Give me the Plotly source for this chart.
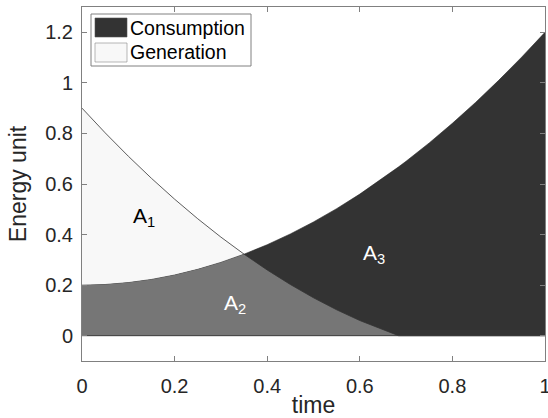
import numpy as np
import plotly.graph_objects as go

# time samples
time = [0.0, 0.05, 0.10, 0.15, 0.20, 0.25, 0.30, 0.35, 0.40, 0.45, 0.50,
        0.55, 0.60, 0.65, 0.684, 0.70, 0.75, 0.80, 0.85, 0.90, 0.95, 1.0]
# consumption readings
consumption = [0.20, 0.2025, 0.21, 0.2225, 0.24, 0.2625, 0.29, 0.3225, 0.36, 0.4025, 0.45,
               0.5025, 0.56, 0.6225, 0.668, 0.69, 0.7625, 0.84, 0.9225, 1.01, 1.1025, 1.20]
# generation readings
generation = [0.90, 0.8025, 0.71, 0.6225, 0.54, 0.4625, 0.39, 0.3225, 0.26, 0.2025, 0.15,
              0.1025, 0.06, 0.0225, 0.0, 0.0, 0.0, 0.0, 0.0, 0.0, 0.0, 0.0]

x_ticks = [0, 0.2, 0.4, 0.6, 0.8, 1]
x_tick_labels = ["0", "0.2", "0.4", "0.6", "0.8", "1"]
y_ticks = [0, 0.2, 0.4, 0.6, 0.8, 1.0, 1.2]
y_tick_labels = ["0", "0.2", "0.4", "0.6", "0.8", "1", "1.2"]

legend_names = ["Consumption", "Generation"]
area_labels = ["A<sub>1</sub>", "A<sub>2</sub>", "A<sub>3</sub>"]
label_x = [0.133, 0.33, 0.63]
label_y = [0.47, 0.125, 0.325]
label_colors = ["black", "white", "white"]

C_DARK = "#333333"
C_MID = "#767676"
C_LIGHT = "#f8f8f8"
FONT = "Liberation Sans, Arial, Helvetica, sans-serif"

overlap = np.minimum(np.array(consumption), np.array(generation)).tolist()

fig = go.Figure()
fig.add_trace(go.Scatter(x=time, y=generation, fill="tozeroy", fillcolor=C_LIGHT,
                         mode="lines", line=dict(width=0), showlegend=False, hoverinfo="skip"))
fig.add_trace(go.Scatter(x=time, y=consumption, fill="tozeroy", fillcolor=C_DARK,
                         mode="lines", line=dict(width=0.6, color="#222222"), showlegend=False, hoverinfo="skip"))
fig.add_trace(go.Scatter(x=time, y=overlap, fill="tozeroy", fillcolor=C_MID,
                         mode="lines", line=dict(width=0), showlegend=False, hoverinfo="skip"))
fig.add_trace(go.Scatter(x=time, y=generation, mode="lines",
                         line=dict(width=0.8, color="#333333"), showlegend=False, hoverinfo="skip"))
fig.add_trace(go.Scatter(x=[0, 1], y=[0, 0], mode="lines",
                         line=dict(width=0.8, color="#333333"), showlegend=False, hoverinfo="skip"))

for t, xv, yv, c in zip(area_labels, label_x, label_y, label_colors):
    fig.add_annotation(x=xv, y=yv, xref="x", yref="y", text=t, showarrow=False,
                       font=dict(family=FONT, size=21, color=c))

# manual MATLAB-style legend
W, H = 548, 418
ml, mr, mt, mb = 82, 3, 7, 57
pw, ph = W - ml - mr, H - mt - mb

def px(xp):
    return (xp - ml) / pw

def py(yp):
    return 1 - (yp - mt) / ph

fig.add_shape(type="rect", xref="paper", yref="paper", x0=px(91), x1=px(251), y0=py(66), y1=py(14),
              line=dict(color="#808080", width=1), fillcolor="white", layer="above")
fig.add_shape(type="rect", xref="paper", yref="paper", x0=px(95), x1=px(127), y0=py(37), y1=py(18),
              line=dict(color="#555555", width=0.6), fillcolor=C_DARK, layer="above")
fig.add_shape(type="rect", xref="paper", yref="paper", x0=px(95), x1=px(127), y0=py(62), y1=py(43),
              line=dict(color="#888888", width=0.6), fillcolor=C_LIGHT, layer="above")
for name, yc in zip(legend_names, [28, 52.5]):
    fig.add_annotation(x=px(128), y=py(yc), xref="paper", yref="paper", text=name,
                       showarrow=False, xanchor="left", yanchor="middle",
                       font=dict(family=FONT, size=19.5, color="black"))

axis_common = dict(showline=True, linecolor="#808080", linewidth=1, mirror="ticks",
                   ticks="inside", ticklen=5, tickcolor="#808080", showgrid=False,
                   zeroline=False, automargin=False, ticklabeloverflow="allow",
                   tickfont=dict(family=FONT, size=20, color="#262626"))

fig.update_layout(
    width=W, height=H,
    margin=dict(l=ml, r=mr, t=mt, b=mb),
    paper_bgcolor="white", plot_bgcolor="white",
    showlegend=False,
    xaxis=dict(range=[0, 1], tickvals=x_ticks, ticktext=x_tick_labels, ticklabelstandoff=7,
               title=dict(text="time", font=dict(family=FONT, size=23, color="#262626"), standoff=5),
               **axis_common),
    yaxis=dict(range=[-0.1, 1.3], tickvals=y_ticks, ticktext=y_tick_labels, ticklabelstandoff=4,
               title=dict(text="Energy unit", font=dict(family=FONT, size=23, color="#262626"), standoff=12),
               **axis_common),
)

fig.write_html("out.html", config={"displayModeBar": False},
               post_script="document.body.style.margin='0';document.body.style.overflow='hidden';")
